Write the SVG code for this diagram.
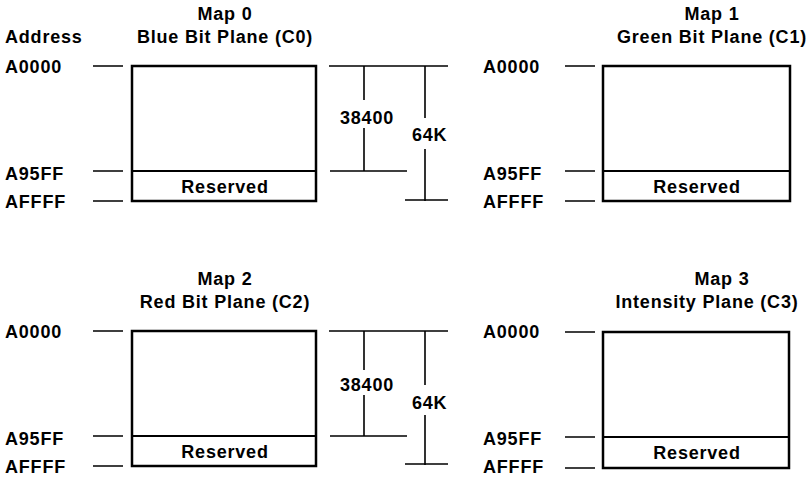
<svg xmlns="http://www.w3.org/2000/svg" width="808" height="477" viewBox="0 0 808 477">
<style>
text{font-family:"Liberation Sans",Arial,sans-serif;font-weight:bold;font-size:18px;fill:#000;letter-spacing:0.8px}
.c{text-anchor:middle}
.box{fill:#fff;stroke:#000;stroke-width:2.5}
.div{stroke:#000;stroke-width:2.2}
.t{stroke:#000;stroke-width:1.6;fill:none}
</style>
<rect width="808" height="477" fill="#fff"/>
<text x="5" y="43">Address</text>
<g id="map0">
<text class="c" x="225" y="20">Map 0</text>
<text class="c" x="225" y="43">Blue Bit Plane (C0)</text>
<rect class="box" x="132" y="66" width="184" height="135"/>
<line class="div" x1="132" y1="171" x2="316" y2="171"/>
<text class="c" x="225" y="193">Reserved</text>
</g>
<g id="map1">
<text class="c" x="712" y="20">Map 1</text>
<text class="c" x="712" y="43">Green Bit Plane (C1)</text>
<rect class="box" x="603" y="66" width="187" height="135"/>
<line class="div" x1="603" y1="171" x2="790" y2="171"/>
<text class="c" x="697" y="193">Reserved</text>
</g>
<g id="map2">
<text class="c" x="225" y="285">Map 2</text>
<text class="c" x="225" y="308">Red Bit Plane (C2)</text>
<rect class="box" x="132" y="331" width="184" height="135"/>
<line class="div" x1="132" y1="436" x2="316" y2="436"/>
<text class="c" x="225" y="458">Reserved</text>
</g>
<g id="map3">
<text class="c" x="722" y="285">Map 3</text>
<text class="c" x="707" y="308">Intensity Plane (C3)</text>
<rect class="box" x="603" y="332" width="186" height="136"/>
<line class="div" x1="603" y1="437" x2="789" y2="437"/>
<text class="c" x="697" y="459">Reserved</text>
</g>
<g id="addr-left-top">
<text x="5" y="73">A0000</text>
<text x="5" y="180">A95FF</text>
<text x="5" y="208">AFFFF</text>
</g>
<g id="addr-right-top">
<text x="483" y="73">A0000</text>
<text x="483" y="180">A95FF</text>
<text x="483" y="208">AFFFF</text>
</g>
<g id="addr-left-bottom">
<text x="5" y="338">A0000</text>
<text x="5" y="445">A95FF</text>
<text x="5" y="473">AFFFF</text>
</g>
<g id="addr-right-bottom">
<text x="483" y="338">A0000</text>
<text x="483" y="445">A95FF</text>
<text x="483" y="473">AFFFF</text>
</g>
<g id="dim-top">
<text x="340" y="124">38400</text>
<text x="412" y="141">64K</text>
</g>
<g id="dim-bottom">
<text x="340" y="391">38400</text>
<text x="412" y="409">64K</text>
</g>
<g id="connectors" class="t">
<path d="M93 66H123M93 171H123M93 201H123"/>
<path d="M565 66H595M565 171H595M565 201H595"/>
<path d="M93 331H123M93 436H123M93 466H123"/>
<path d="M565 332H595M565 437H595M565 468H595"/>
<path d="M329 66H448M364 66V100M364 128V171M330 171H407M425 66V118M425 149V201M405 200H448"/>
<path d="M329 331H448M364 331V370M364 395V436M330 436H407M425 331V385M425 415V465M405 464H448"/>
</g>
</svg>
